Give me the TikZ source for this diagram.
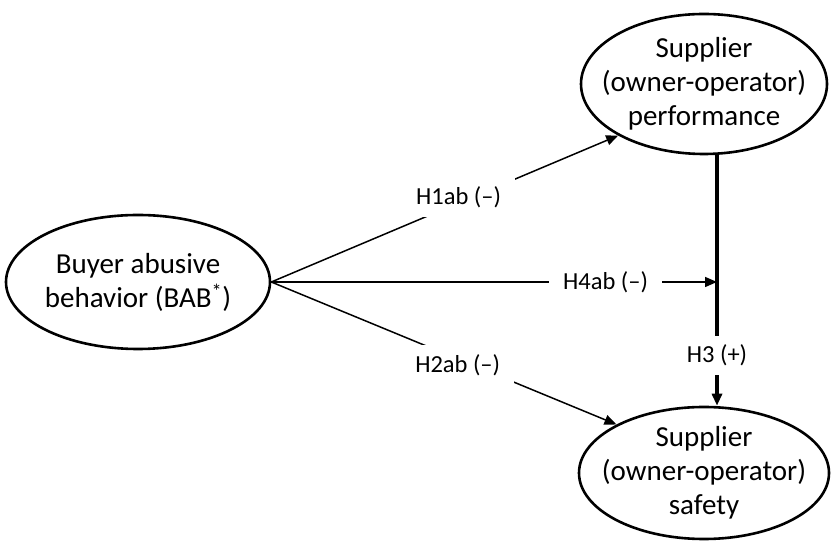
\documentclass[tikz,border=0pt]{standalone}
\usepackage{fontspec}
\setmainfont{Carlito}
\usetikzlibrary{positioning,arrows.meta,shapes.geometric}

\begin{document}
\begin{tikzpicture}[
  x=1pt, y=1pt,
  construct/.style={draw, ellipse, line width=2.6pt, inner xsep=-25pt, inner ysep=0pt, align=center, font=\fontsize{29}{34}\selectfont},
  arrow/.style={-{Triangle[length=12pt,width=10pt]}, line width=1.5pt},
  hyp/.style={fill=white, inner xsep=14pt, inner ysep=9pt, font=\fontsize{24.5}{28}\selectfont}
]
\useasboundingbox (0,0) rectangle (832,543);

\node[construct, minimum width=264pt, minimum height=134pt] (bab) at (138,261) {Buyer abusive \\ behavior (BAB\textsuperscript{*})};
\node[construct, minimum width=246pt, minimum height=140pt] (perf) at (704,459) {Supplier \\ (owner-operator) \\ performance};
\node[construct, minimum width=250pt, minimum height=132pt] (safety) at (704,70) {Supplier \\ (owner-operator) \\ safety};
\coordinate (vline) at (717,0);

\draw[arrow] (bab.east) -- node[hyp, pos=0.54, yshift=6pt] {H1ab (–)} (perf.211);
\draw[arrow] (bab.east) -- node[hyp, pos=0.75] {H4ab (–)} (bab.east -| vline);
\draw[arrow] (bab.east) -- node[hyp, pos=0.54, yshift=-6pt] {H2ab (–)} (safety.151);
\draw[arrow, line width=3.2pt] (perf.south -| vline) -- node[hyp, pos=0.8] {H3 (+)} (safety.north -| vline);
\end{tikzpicture}
\end{document}
